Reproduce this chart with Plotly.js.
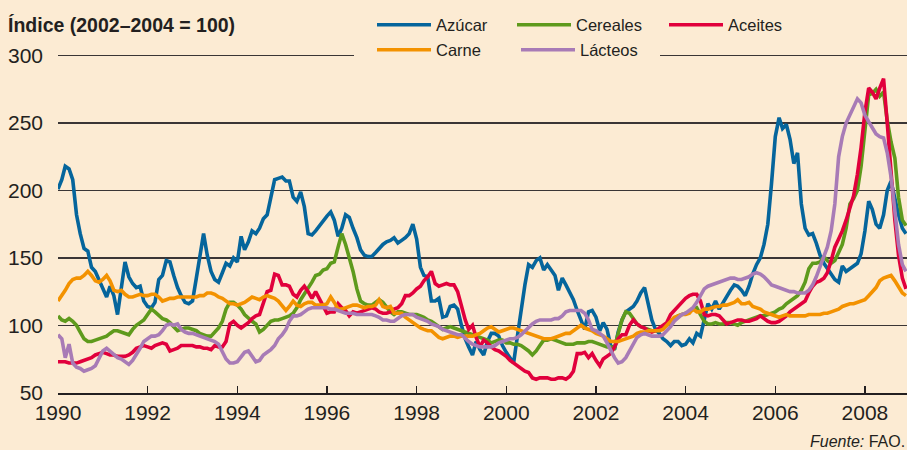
<!DOCTYPE html>
<html>
<head>
<meta charset="utf-8">
<script src="https://cdn.plot.ly/plotly-3.0.1.min.js"></script>
<style>
  html, body { margin: 0; padding: 0; background: #FCEBD3; }
  #chart { width: 907px; height: 450px; }
</style>
</head>
<body>
<div id="chart"></div>
<script>
// Monthly FAO food price indices, Jan 1990 – Dec 2008 (2002–2004 = 100)
const startYear = 1990;
const endYear = 2008;

const azucar = [
  201, 208, 218, 216, 208, 182, 168, 157, 155, 143, 140, 134,
  127, 121, 129, 122, 108, 129, 147, 136, 131, 128, 129, 118,
  114, 113, 117, 134, 137, 148, 147, 137, 128, 122, 117, 116,
  118, 135, 151, 168, 152, 140, 134, 132, 139, 146, 144, 150,
  147, 166, 156, 162, 170, 168, 172, 179, 182, 195, 208, 209,
  210, 207, 207, 195, 192, 199, 188, 168, 167, 170, 174, 177,
  181, 184, 178, 166, 172, 182, 180, 172, 165, 156, 152, 151,
  151, 154, 157, 160, 162, 163, 165, 161, 163, 165, 168, 175,
  164, 143, 137, 136, 118, 118, 120, 106, 107, 114, 115, 112,
  100, 90, 84, 78, 88, 82, 78, 88, 94, 94, 92, 85,
  80, 76, 72, 92, 112, 130, 145, 143, 148, 150, 141, 145,
  141, 137, 126, 135, 130, 124, 119, 111, 104, 97, 110, 111,
  106, 96, 102, 97, 85, 82, 95, 104, 110, 112, 114, 118,
  124, 128, 116, 104, 97, 94, 90, 88, 85, 88, 88, 85,
  86, 90, 87, 94, 92, 104, 116, 112, 118, 112, 117, 122,
  126, 130, 129, 126, 122, 129, 138, 145, 150, 160, 175, 205,
  240, 254, 246, 249, 238, 220, 228, 190, 172, 167, 168, 161,
  152, 146, 142, 138, 134, 132, 144, 140, 142, 144, 146, 153,
  170, 192, 186, 175, 172, 182, 200, 207, 193, 182, 172, 168
];

const cereales = [
  107, 104, 103, 105, 103, 100, 95, 90, 88, 88, 89, 90,
  91, 92, 94, 96, 96, 95, 94, 93, 97, 100, 102, 104,
  108, 112, 110, 107, 105, 104, 102, 99, 96, 97, 98, 98,
  97, 96, 94, 93, 92, 92, 95, 98, 103, 112, 117, 117,
  115, 112, 108, 105, 103, 101, 95, 97, 100, 103, 104, 104,
  105, 106, 107, 109, 113, 119, 123, 127, 132, 137, 138, 141,
  142, 146, 147, 158, 168, 160, 150, 140, 127, 118, 116, 115,
  115, 117, 119, 117, 113, 110, 108, 110, 110, 109, 108, 108,
  108, 107, 106, 104, 103, 101, 99, 97, 98, 99, 98, 97,
  96, 95, 94, 93, 92, 91, 90, 89, 87, 88, 89, 89,
  87, 87, 86, 86, 85, 83, 81, 78, 81, 85, 89, 89,
  90, 89, 88, 87, 86, 86, 86, 87, 87, 87, 88, 88,
  87, 86, 85, 84, 84, 83, 94, 104, 110, 109, 105, 101,
  99, 98, 97, 96, 96, 97, 98, 100, 103, 105, 107, 108,
  109, 110, 112, 113, 108, 103, 101, 101, 102, 101, 101, 102,
  102, 101, 100, 102, 103, 104, 105, 106, 107, 107, 108, 109,
  110, 112, 113, 116, 118, 120, 122, 126, 132, 142, 146, 146,
  147, 151, 148, 146, 148, 154, 160, 172, 190, 194, 200, 218,
  245, 271, 272, 275, 270, 273, 252, 236, 224, 195, 178, 174
];

const aceites = [
  73, 73, 73, 72, 72, 72, 73, 74, 75, 76, 78, 79,
  80, 79, 78, 78, 77, 77, 77, 78, 80, 83, 84, 85,
  84, 83, 85, 86, 87, 86, 81, 82, 83, 85, 85, 85,
  85, 84, 84, 83, 83, 82, 85, 84, 84, 88, 101, 103,
  100, 98, 100, 102, 105, 107, 108, 116, 125, 126, 138, 137,
  130, 130, 129, 123, 121, 126, 129, 125, 120, 125, 120, 115,
  109, 110, 110, 116, 113, 111, 107, 110, 109, 110, 111, 112,
  113, 112, 110, 109, 109, 110, 112, 113, 116, 122, 122, 124,
  127, 129, 133, 136, 140, 131, 129, 130, 131, 130, 130, 125,
  114, 104, 97, 100, 91, 84, 89, 87, 84, 82, 81, 79,
  77, 74, 72, 70, 68, 66, 65, 61, 60, 61, 61, 61,
  60, 60, 61, 61, 60, 62, 66, 79, 79, 80, 76, 79,
  74, 70, 75, 77, 79, 84, 90, 93, 93, 100, 104, 101,
  99, 98, 96, 95, 96, 98, 100, 102, 108, 111, 114, 117,
  120, 122, 123, 123, 118, 108, 107, 108, 108, 107, 104, 101,
  102, 103, 104, 104, 103, 103, 104, 105, 107, 105, 103, 102,
  102, 103, 105, 107, 110, 112, 114, 116, 118, 124, 129, 132,
  133, 135, 139, 148, 158, 164, 170, 178, 188, 196, 212, 232,
  258, 276, 273, 268, 276, 283, 250, 212, 178, 152, 135, 127
];

const carne = [
  118, 122, 126, 131, 134, 135, 135, 137, 140, 137, 133, 132,
  134, 137, 133, 126, 125, 126, 123, 121, 121, 122, 123, 122,
  122, 123, 123, 121, 118, 119, 120, 120, 121, 121, 121, 121,
  121, 121, 122, 122, 124, 124, 123, 121, 120, 118, 116, 116,
  115, 116, 117, 119, 121, 120, 119, 121, 122, 121, 120, 118,
  114, 111, 114, 118, 115, 114, 116, 117, 117, 115, 115, 115,
  116, 121, 117, 112, 112, 113, 114, 115, 115, 114, 113, 114,
  114, 115, 119, 114, 113, 114, 109, 109, 109, 106, 104, 102,
  100, 98, 97, 96, 96, 93, 91, 90, 91, 92, 92, 91,
  92, 92, 92, 92, 93, 94, 96, 98, 99, 97, 95, 96,
  97, 98, 98, 97, 96, 95, 94, 93, 92, 91, 90, 90,
  90, 91, 92, 93, 94, 94, 96, 98, 100, 98, 97, 96,
  94, 93, 92, 90, 88, 88, 88, 89, 90, 91, 92, 94,
  95, 95, 96, 96, 96, 96, 97, 100, 103, 106, 107, 108,
  108, 109, 112, 110, 110, 112, 112, 113, 114, 114, 115, 115,
  116, 117, 119, 116, 116, 117, 114, 113, 112, 110, 109, 108,
  107, 106, 107, 108, 107, 107, 107, 107, 107, 108, 108, 108,
  108, 109, 109, 110, 111, 112, 114, 115, 116, 116, 117, 118,
  119, 122, 125, 128, 133, 135, 136, 137, 133, 128, 124, 122
];

const lacteos = [
  93, 90, 76, 86, 72, 69, 68, 66, 67, 68, 70, 75,
  81, 83, 81, 78, 76, 75, 73, 71, 74, 78, 83, 88,
  90, 92, 92, 93, 96, 100, 101, 100, 101, 97, 95, 94,
  94, 93, 92, 91, 90, 89, 88, 86, 81, 75, 72, 72,
  73, 77, 80, 81, 77, 73, 74, 78, 80, 82, 85, 90,
  93, 97, 103, 107, 107, 108, 110, 112, 113, 113, 113, 113,
  113, 112, 112, 111, 110, 109, 109, 109, 108, 108, 108, 108,
  108, 107, 106, 104, 104, 103, 103, 105, 107, 108, 108, 108,
  106, 105, 104, 103, 101, 100, 99, 97, 96, 95, 94, 93,
  93, 90, 88, 86, 85, 84, 84, 84, 84, 85, 87, 88,
  89, 90, 90, 91, 93, 96, 98, 101, 103, 104, 104, 104,
  104, 105, 105, 107, 110, 111, 111, 111, 111, 109, 104, 97,
  96, 94, 92, 87, 81, 76, 72, 73, 76, 81, 86, 91,
  93, 94, 93, 92, 92, 92, 93, 96, 99, 103, 106, 108,
  109, 111, 113, 117, 122, 127, 129, 130, 131, 132, 133, 134,
  135, 135, 134, 134, 135, 136, 138, 139, 138, 136, 133, 130,
  129, 128, 127, 126, 125, 125, 124, 124, 124, 126, 130, 136,
  143, 150, 158, 170, 190, 225, 240, 250, 256, 262, 268, 265,
  256, 251, 247, 242, 240, 239, 228, 210, 185, 160, 145, 140
];

const seriesNames = ['Azúcar', 'Cereales', 'Aceites', 'Carne', 'Lácteos'];
const seriesColors = ['#05659C', '#5E9A1C', '#E1003C', '#F39200', '#A87BB6'];
const tickYears = ['1990','1992','1994','1996','1998','2000','2002','2004','2006','2008'];
const yTicks = [50, 100, 150, 200, 250, 300];

// month axis (first day of each month)
const months = [];
for (let y = startYear; y <= endYear; y++) {
  for (let m = 1; m <= 12; m++) {
    months.push(y + '-' + String(m).padStart(2, '0') + '-01');
  }
}

const ink = '#231F20';
const bg = '#FCEBD3';
const FONT = '"Liberation Sans", Arial, Helvetica, sans-serif';
const W = 907, H = 450;
const PL = 58, PR = 0, PT = 53, PB = 57;
const PW = W - PL - PR, PH = H - PT - PB;

// which legend box each series goes into
const legendOf = ['legend', 'legend2', 'legend3', 'legend4', 'legend4'];

const data = [azucar, cereales, aceites, carne, lacteos].map((vals, i) => ({
  type: 'scatter',
  mode: 'lines',
  x: months,
  y: vals,
  name: seriesNames[i],
  line: { color: seriesColors[i], width: 3.6 },
  legend: legendOf[i],
  hoverinfo: 'skip'
}));

function makeLegend(px, py, extra) {
  return Object.assign({
    orientation: 'h',
    bgcolor: bg,
    borderwidth: 0,
    font: { family: FONT, size: 16.5, color: ink },
    itemwidth: 54,
    xref: 'container',
    yref: 'container',
    xanchor: 'left',
    yanchor: 'middle',
    x: px / W,
    y: 1 - py / H,
    itemclick: false,
    itemdoubleclick: false
  }, extra || {});
}

const layout = {
  width: W,
  height: H,
  paper_bgcolor: bg,
  plot_bgcolor: bg,
  margin: { l: PL, r: PR, t: PT, b: PB, autoexpand: false },
  font: { family: FONT, color: ink },
  title: {
    text: '<b>Índice (2002–2004 = 100)</b>',
    font: { family: FONT, size: 19.5, color: ink },
    x: 8 / W, xanchor: 'left', xref: 'container',
    y: 1 - 25 / H, yanchor: 'middle', yref: 'container'
  },
  xaxis: {
    type: 'date',
    range: ['1990-01-01', '2008-12-09'],
    tickvals: tickYears.map(y => y + '-01-01'),
    ticktext: tickYears,
    ticks: 'inside',
    ticklen: 7,
    tickwidth: 1.3,
    tickcolor: ink,
    showline: true,
    linecolor: ink,
    linewidth: 1.6,
    showgrid: false,
    zeroline: false,
    tickfont: { family: FONT, size: 21, color: ink },
    fixedrange: true
  },
  yaxis: {
    range: [49.8, 302],
    tickvals: yTicks,
    ticktext: yTicks.map(String),
    showgrid: true,
    gridcolor: '#3A3535',
    gridwidth: 1.4,
    zeroline: false,
    showline: false,
    ticks: '',
    ticklabelstandoff: 14,
    tickfont: { family: FONT, size: 21, color: ink },
    fixedrange: true
  },
  legend: makeLegend(372, 25),
  legend2: makeLegend(512, 25),
  legend3: makeLegend(664, 25),
  legend4: makeLegend(372, 50, { entrywidth: 75, entrywidthmode: 'pixels' }),
  shapes: [{
    // keeps the 300 gridline open behind the second legend row, as in the original
    type: 'rect', xref: 'paper', yref: 'paper', layer: 'above',
    x0: (354 - PL) / PW, x1: (380 - PL) / PW,
    y0: (H - PB - 62) / PH, y1: (H - PB - 48) / PH,
    fillcolor: bg, line: { width: 0 }
  }],
  annotations: [{
    text: '<i>Fuente:</i> FAO.',
    xref: 'paper', yref: 'paper',
    x: 1, xanchor: 'right',
    y: (H - PB - 441) / PH, yanchor: 'middle',
    showarrow: false,
    font: { family: FONT, size: 16, color: ink }
  }],
  showlegend: true
};

Plotly.newPlot('chart', data, layout, { displayModeBar: false, staticPlot: true });
</script>
</body>
</html>
